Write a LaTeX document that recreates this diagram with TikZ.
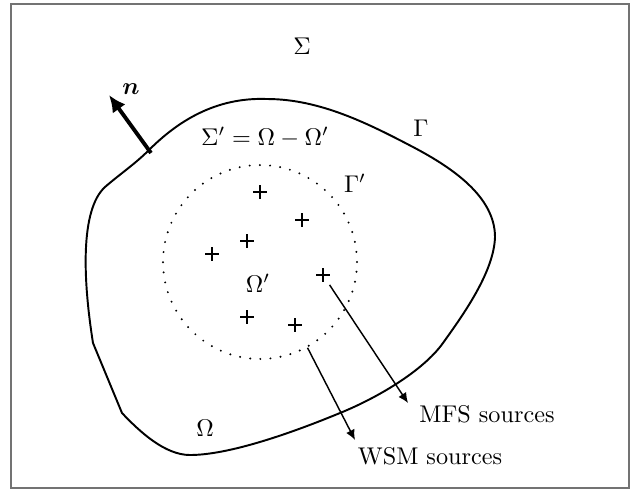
\documentclass[tikz,border=0pt]{standalone}
\usepackage{amsmath,bm}
\usetikzlibrary{arrows.meta}
\begin{document}
\begin{tikzpicture}[x=0.01452cm,y=-0.01452cm,>={Latex[length=4.2pt,width=3.8pt]},thick]
  \tikzstyle{src}=[circle, inner sep=0pt, minimum size=9pt,
    path picture={\draw[line width=0.9pt]
      ([xshift=-2.8pt]path picture bounding box.center) -- ([xshift=2.8pt]path picture bounding box.center)
      ([yshift=-2.8pt]path picture bounding box.center) -- ([yshift=2.8pt]path picture bounding box.center);}]
  \tikzstyle{inner}=[circle, draw, inner sep=0pt, minimum size=2.817cm, line width=0.9pt,
    line cap=round, dash pattern=on 0pt off 4.2pt]
  \tikzstyle{arr}=[->, semithick]

  \useasboundingbox (0,0) rectangle (637,489);
  \draw[black!55, line width=0.7pt] (11,4) rectangle (629,488);

  % normal
  \coordinate (nbase) at (149,150);
  \coordinate (ntip) at (109,95);

  % outer boundary
  \draw (nbase) .. controls (177,122) and (215,97) .. (267,99)
    .. controls (320,99) and (369,124) .. (413,147)
    .. controls (453,168) and (495,197) .. (495,237)
    .. controls (494,272) and (463,315) .. (443,343)
    .. controls (423,371) and (377,398) .. (340,413)
    .. controls (294,432) and (230,455) .. (190,455)
    .. controls (165,455) and (140,432) .. (122,413)
    -- (93,343)
    .. controls (83,280) and (80,210) .. (105,187)
    .. controls (120,174) and (135,164) .. cycle;

  \draw[-{Latex[length=7pt,width=6.5pt]}, line width=1.6pt] ([shift={(2,3)}]nbase) -- (ntip);

  % inner domain and sources
  \node[inner] (gammap) at (260,262) {};
  \foreach \p [count=\i] in {(260,192),(302,220),(247,241),(212,254),(323,275),(247,317),(295,325)}
    \node[src] (s\i) at \p {};

  \node (sigma) at (302,46) {$\Sigma$};
  \node (nlab) at (131,89) {$\bm{n}$};
  \node (gam) at (421,128) {$\Gamma$};
  \node (sigp) at (265,137) {$\Sigma' = \Omega - \Omega'$};
  \node (gamp) at (355,183) {$\Gamma'$};
  \node (omp) at (258,283) {$\Omega'$};
  \node (om) at (205,428) {$\Omega$};
  \node (mfs) at (487,414) {MFS sources};
  \node (wsm) at (430,456) {WSM sources};

  \coordinate (mfstip) at (408,403);
  \coordinate (wsmtip) at (355,440);
  \draw[arr] (s5) -- (mfstip);
  \draw[arr] (gammap.-61) -- (wsmtip);
\end{tikzpicture}
\end{document}
